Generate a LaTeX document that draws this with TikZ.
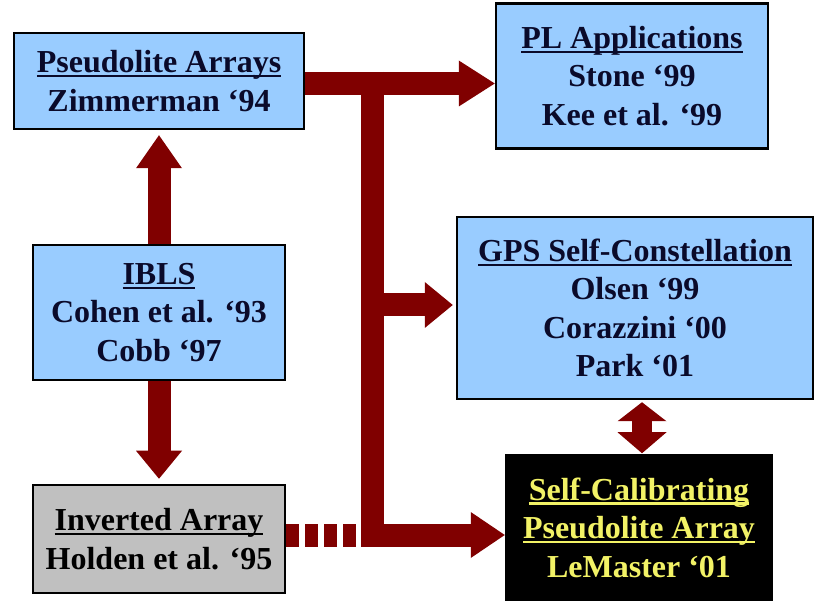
\documentclass[tikz,border=0pt]{standalone}
\usepackage{fontspec}
\setmainfont{Liberation Serif}
\usetikzlibrary{arrows.meta,calc}

\definecolor{boxblue}{HTML}{99CCFF}
\definecolor{boxgray}{HTML}{C0C0C0}
\definecolor{inknavy}{HTML}{0A0A2A}
\definecolor{arrowred}{HTML}{800000}
\definecolor{hiyellow}{HTML}{F2F266}

% underline that sits just under the baseline and crosses descenders
\newsavebox\ulbox
\newcommand\ulx[1]{\sbox\ulbox{#1}\rlap{\rule[-4.5pt]{\wd\ulbox}{2.2pt}}\usebox\ulbox}

\tikzset{
  refbox/.style={draw=black, line width=2.5pt, fill=boxblue, text=inknavy,
    inner sep=0pt, align=center,
    font=\fontsize{32}{38.5}\selectfont\bfseries},
  bus/.style={draw=arrowred, line width=23pt, line join=miter},
  bigtip/.style={-{Triangle[length=#1,width=46pt,line width=0pt]}},
  bigtip/.default=34pt,
}

\begin{document}
\begin{tikzpicture}[x=1pt,y=-1pt]
\useasboundingbox (0,0) rectangle (817,601);

% boxes
\node[refbox, minimum width=290pt, minimum height=96pt] (PA) at (159,81)
  {\ulx{Pseudolite Arrays}\\Zimmerman ‘94};
\node[refbox, minimum width=252pt, minimum height=135pt] (IBLS) at (159,312.5)
  {\ulx{IBLS}\\Cohen et al. ‘93\\Cobb ‘97};
\node[refbox, fill=boxgray, text=black, minimum width=252pt, minimum height=108pt] (INV) at (159,539)
  {\ulx{Inverted Array}\\Holden et al. ‘95};
\node[refbox, minimum width=272pt, minimum height=145pt] (PL) at (632,76)
  {\ulx{PL Applications}\\Stone ‘99\\Kee et al. ‘99};
\node[refbox, minimum width=356pt, minimum height=182pt] (GPS) at (635,308)
  {\ulx{GPS Self-Constellation}\\Olsen ‘99\\Corazzini ‘00\\Park ‘01};
\node[refbox, fill=black, text=hiyellow, minimum width=266pt, minimum height=144pt] (SC) at (639,527.5)
  {\ulx{Self-Calibrating}\\\ulx{Pseudolite Array}\\LeMaster ‘01};

% junction points of the bus
\coordinate (top) at (372,72);
\coordinate (br) at (372,305);
\coordinate (corner) at (372,535);

% IBLS feeds both neighbours
\draw[bus, line width=23pt, bigtip=33pt, shorten >=5pt] (IBLS.north) -- (PA.south);
\draw[bus, line width=23pt, bigtip=28pt, shorten >=5pt] (IBLS.south) -- (INV.north);

% main bus out of the pseudolite array box
\draw[bus, bigtip=36pt] ([yshift=-2.5pt]PA.east) -- ([yshift=-2.5pt]PA.east -| PL.west);
\draw[bus, bigtip=34pt] (top) -- (corner) -- (corner -| SC.west);
\draw[bus, bigtip=28pt] (br) -- ([xshift=-3pt]br -| GPS.west);

% dotted link from the inverted array into the bus
\draw[bus, dash pattern=on 13pt off 6pt] (corner -| INV.east) -- ($(corner)+(-11.5,0)$);

% two-way link between self-constellation and self-calibration
\draw[draw=arrowred, line width=20pt,
  {Triangle[length=19pt,width=49pt,line width=0pt]}-{Triangle[length=21pt,width=49pt,line width=0pt]}]
  ([yshift=-2pt]GPS.south -| 642,0) -- ([yshift=1pt]SC.north -| 642,0);
\end{tikzpicture}
\end{document}
